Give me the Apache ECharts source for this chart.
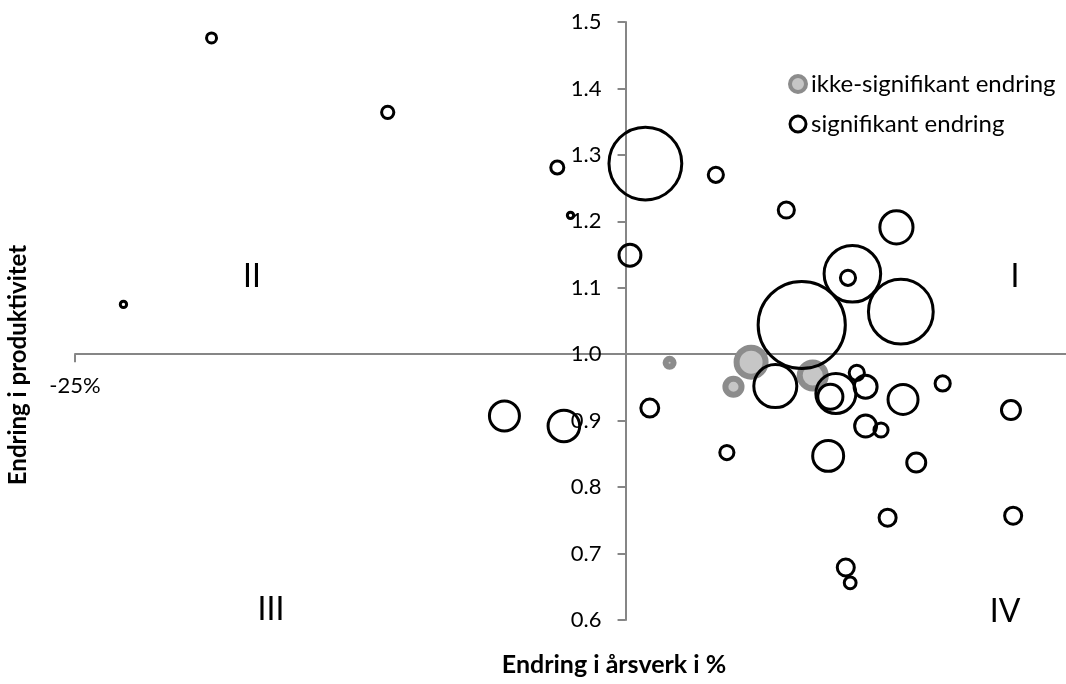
<!DOCTYPE html>
<html>
<head>
<meta charset="utf-8">
<title>Endring i produktivitet og årsverk</title>
<script src="https://cdn.jsdelivr.net/npm/echarts@6/dist/echarts.min.js"></script>
<style>
  html, body { margin: 0; padding: 0; background: #fff; }
  #chart { width: 1066px; height: 684px; }
</style>
</head>
<body>
<div id="chart"></div>
<script>
// signifikant endring: årsverk (%), produktivitet, boblestørrelse
var sigX = [-18.8, -10.8, -22.8, -3.1, -2.5, 0.9, 4.1, 7.3, 12.3, 10.3, 10.1, 12.5, 8.0, 0.2,
  -5.5, -2.8, 1.1, 6.8, 9.55, 9.3, 10.5, 10.9, 12.6, 14.4, 17.5, 10.9, 11.6, 4.6, 9.2, 13.2,
  11.9, 17.6, 10.0, 10.2];
var sigY = [1.476, 1.364, 1.075, 1.281, 1.209, 1.287, 1.270, 1.217, 1.191, 1.121, 1.115, 1.064, 1.044, 1.149,
  0.907, 0.892, 0.919, 0.952, 0.941, 0.936, 0.972, 0.951, 0.932, 0.956, 0.916, 0.892, 0.886, 0.852, 0.847, 0.837,
  0.754, 0.757, 0.679, 0.656];
var sigSize = [1.0, 1.5, 0.4, 1.7, 0.4, 53, 2.3, 2.6, 11, 32, 2.3, 42, 76, 4.8,
  9, 10, 3.2, 18.5, 16, 6.3, 2.3, 5.3, 9, 2.3, 3.6, 4.8, 2.0, 2.0, 9.6, 3.6,
  2.9, 2.9, 2.9, 1.4];

// ikke-signifikant endring
var nsX = [2.0, 5.7, 4.9, 8.5];
var nsY = [0.987, 0.988, 0.951, 0.968];
var nsSize = [0.64, 8.4, 2.6, 6.8];

var seriesNames = ["ikke-signifikant endring", "signifikant endring"];
var xMin = -25, xMax = 20, xStep = 45;
var yMin = 0.6, yMax = 1.5, yStep = 0.1;
var xCross = 0, yCross = 1.0; // aksene krysser her
var quadrants = ["I", "II", "III", "IV"];

function points(xs, ys, ss) {
  return xs.map(function (x, i) {
    return [x, ys[i], ss[i]];
  });
}

var font = "Lato, 'Noto Sans', sans-serif";
var axisColor = "#868686";

var myChart = echarts.init(document.getElementById("chart"));
var option = {
  animation: false,
  textStyle: { fontFamily: font },
  grid: { left: 75, right: -4.4, top: 22, bottom: 64, containLabel: false },
  legend: {
    orient: "vertical",
    left: 783,
    top: 67,
    itemWidth: 16,
    itemHeight: 16,
    itemGap: 16,
    textStyle: { color: "#000", fontSize: 24, fontFamily: font },
    data: [
      { name: seriesNames[0], icon: "circle",
        itemStyle: { color: "#c6c6c6", borderColor: "#8c8c8c", borderWidth: 4 } },
      { name: seriesNames[1], icon: "circle",
        itemStyle: { color: "#fff", borderColor: "#000", borderWidth: 3 } },
    ],
  },
  xAxis: {
    type: "value",
    min: xMin,
    max: xMax,
    interval: xStep,
    position: "bottom",
    axisLine: { onZero: false, lineStyle: { color: axisColor, width: 2 } },
    axisTick: { length: 8, lineStyle: { color: axisColor, width: 2 } },
    axisLabel: {
      color: "#000",
      fontSize: 22,
      margin: 21,
      showMaxLabel: false,
      formatter: function (v) { return v + "%"; },
    },
    splitLine: { show: false },
  },
  yAxis: {
    type: "value",
    min: yMin,
    max: yMax,
    interval: yStep,
    position: "left",
    axisLine: { onZero: false, lineStyle: { color: axisColor, width: 2 } },
    axisTick: { length: 8, lineStyle: { color: axisColor, width: 2 } },
    axisLabel: {
      color: "#000",
      fontSize: 22,
      margin: 24,
      formatter: function (v) { return v.toFixed(1); },
    },
    splitLine: { show: false },
  },
  series: [
    {
      name: seriesNames[0],
      type: "scatter",
      data: points(nsX, nsY, nsSize),
      symbol: "circle",
      symbolSize: function (d) { return Math.sqrt(d[2]) * 10; },
      itemStyle: { color: "#c6c6c6", borderColor: "#8c8c8c", borderWidth: 6, opacity: 1 },
      z: 2,
    },
    {
      name: seriesNames[1],
      type: "scatter",
      data: points(sigX, sigY, sigSize),
      symbol: "circle",
      symbolSize: function (d) { return Math.sqrt(d[2]) * 10; },
      itemStyle: { color: "rgba(255,255,255,0)", borderColor: "#000", borderWidth: 3, opacity: 1 },
      z: 3,
    },
  ],
  graphic: [
    { type: "text", x: 1015, y: 277, style: { text: quadrants[0], font: "32px " + font, fill: "#000", align: "center", verticalAlign: "middle" } },
    { type: "text", x: 252, y: 277, style: { text: quadrants[1], font: "32px " + font, fill: "#000", align: "center", verticalAlign: "middle" } },
    { type: "text", x: 271, y: 610, style: { text: quadrants[2], font: "32px " + font, fill: "#000", align: "center", verticalAlign: "middle" } },
    { type: "text", x: 1005, y: 612, style: { text: quadrants[3], font: "32px " + font, fill: "#000", align: "center", verticalAlign: "middle" } },
    { type: "text", x: 614, y: 665, style: { text: "Endring i årsverk i %", font: "bold 25px " + font, fill: "#000", align: "center", verticalAlign: "middle" } },
    { type: "text", x: 18, y: 365, rotation: Math.PI / 2, style: { text: "Endring i produktivitet", font: "bold 24px " + font, fill: "#000", align: "center", verticalAlign: "middle" } },
  ],
};
myChart.setOption(option);

// flytt aksene til krysningspunktet (0 %, 1.0)
var corner = myChart.convertToPixel({ gridIndex: 0 }, [xMin, yMin]);
var cross = myChart.convertToPixel({ gridIndex: 0 }, [xCross, yCross]);
myChart.setOption({
  xAxis: { offset: -(corner[1] - cross[1]) },
  yAxis: { offset: -(cross[0] - corner[0]) },
});

window.addEventListener("resize", function () {
  myChart.resize();
});
</script>
</body>
</html>
